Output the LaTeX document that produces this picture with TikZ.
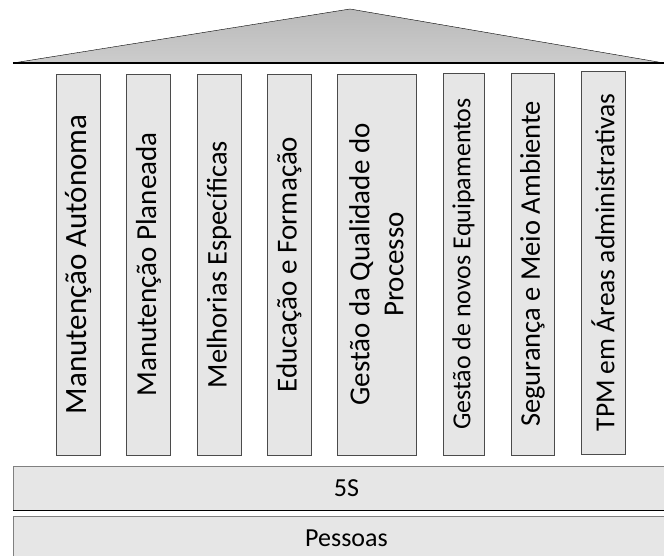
\documentclass[tikz,border=0pt]{standalone}
\usepackage{fontspec}
\setmainfont{Carlito}
\definecolor{pillarfill}{RGB}{230,230,230}
\definecolor{pillaredge}{RGB}{75,75,75}
\newcommand{\pillarsize}[1]{\fontsize{#1}{34}\selectfont}

\begin{document}
\begin{tikzpicture}[x=1pt,y=1pt,
                    pillar/.style={rectangle,draw=pillaredge,fill=pillarfill,rotate=90,
                    inner sep=0pt,minimum height=44pt,align=center,
                    font=\pillarsize{29}},
                    floor/.style={rectangle,draw=gray,fill=pillarfill,inner sep=0pt,
                    minimum width=667pt,minimum height=44pt,
                    font=\fontsize{26}{32}\selectfont}
                   ]
   \useasboundingbox (0,0) rectangle (664,555);

   % roof
   \coordinate (eaveL) at (13,492);
   \coordinate (eaveR) at (664,492);
   \coordinate (ridge) at (350,546);
   \shade[top color=gray!55,bottom color=gray!40] (eaveL) -- (ridge) -- (eaveR) -- cycle;
   \draw[line join=round] (eaveL) -- (ridge) -- (eaveR);
   \draw[line width=1.8pt] (eaveL) -- (eaveR);

   % pillars
   \node[pillar,minimum width=381pt,font=\pillarsize{31}] (autonoma) at (78.5,290.5)
        {Manutenção Autónoma};
   \node[pillar,minimum width=381pt] (planeada) at (148.5,290.5) {Manutenção Planeada};
   \node[pillar,minimum width=381pt,font=\pillarsize{28.5}] (melhorias) at (219,290.5)
        {Melhorias Específicas};
   \node[pillar,minimum width=381pt] (educacao) at (289,290.5) {Educação e Formação};
   \node[pillar,minimum width=381pt,minimum height=79pt] (qualidade) at (376.5,290.5)
        {Gestão da Qualidade do\\Processo};
   \node[pillar,minimum width=382pt,minimum height=41pt,font=\pillarsize{26}] (equipamentos)
        at (463.5,291) {Gestão de novos Equipamentos};
   \node[pillar,minimum width=382pt,minimum height=43pt,font=\pillarsize{28.5}] (seguranca)
        at (532.5,291) {Segurança e Meio Ambiente};
   \node[pillar,minimum width=383pt,font=\pillarsize{27.5}] (administrativas) at (603,292.5)
        {TPM em Áreas administrativas};

   % base
   \node[floor] (cincoS) at (346.5,67) {5S};
   \node[floor] (pessoas) at (346.5,17) {Pessoas};
   \draw[line width=1pt] (cincoS.south west) -- (cincoS.south east);
\end{tikzpicture}
\end{document}
